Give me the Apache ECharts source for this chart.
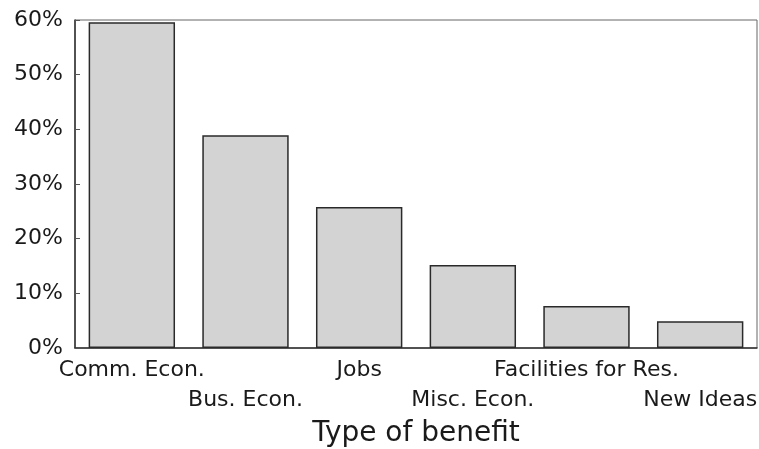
<!DOCTYPE html>
<html>
<head>
<meta charset="utf-8">
<script src="https://cdn.jsdelivr.net/npm/echarts@6/dist/echarts.min.js"></script>
<style>
html, body { margin: 0; padding: 0; background: #fff; }
#chart { width: 759px; height: 449px; }
</style>
</head>
<body>
<div id="chart"></div>
<script>
var categories = ['Comm. Econ.', 'Bus. Econ.', 'Jobs', 'Misc. Econ.', 'Facilities for Res.', 'New Ideas'];
var shares = [59.6, 38.9, 25.8, 15.2, 7.7, 4.9];
var yTicks = [0, 10, 20, 30, 40, 50, 60];

var myChart = echarts.init(document.getElementById('chart'));

var xAxis = {
    type: 'category',
    data: categories,
    name: 'Type of benefit',
    nameLocation: 'middle',
    nameGap: 71,
    nameTextStyle: { fontFamily: 'DejaVu Sans', fontSize: 28, color: '#1a1a1a' },
    axisLine: { lineStyle: { color: '#333', width: 1.5 } },
    axisTick: { show: false },
    axisLabel: {
        interval: 0,
        margin: 7,
        fontFamily: 'DejaVu Sans',
        fontSize: 22,
        color: '#1a1a1a',
        lineHeight: 30,
        formatter: function (value, index) {
            return index % 2 === 1 ? '\n' + value : value;
        }
    }
};

var yAxis = {
    type: 'value',
    min: yTicks[0],
    max: yTicks[yTicks.length - 1],
    interval: 10,
    axisLine: { show: true, lineStyle: { color: '#333', width: 1.5 } },
    axisTick: { show: true, inside: true, length: 5, lineStyle: { color: '#555' } },
    splitLine: { show: false },
    axisLabel: {
        margin: 12,
        fontFamily: 'DejaVu Sans',
        fontSize: 22,
        color: '#1a1a1a',
        formatter: '{value}%'
    }
};

var series = [{
    type: 'bar',
    data: shares,
    barCategoryGap: '24%',
    itemStyle: { color: '#d3d3d3', borderColor: '#2a2a2a', borderWidth: 1.5 }
}];

var option = {
    animation: false,
    grid: {
        left: 75, right: 2, top: 20, bottom: 101,
        containLabel: false,
        outerBoundsMode: 'none',
        show: true, borderColor: '#666', borderWidth: 1
    },
    xAxis: xAxis,
    yAxis: yAxis,
    series: series
};

myChart.setOption(option);
</script>
</body>
</html>
